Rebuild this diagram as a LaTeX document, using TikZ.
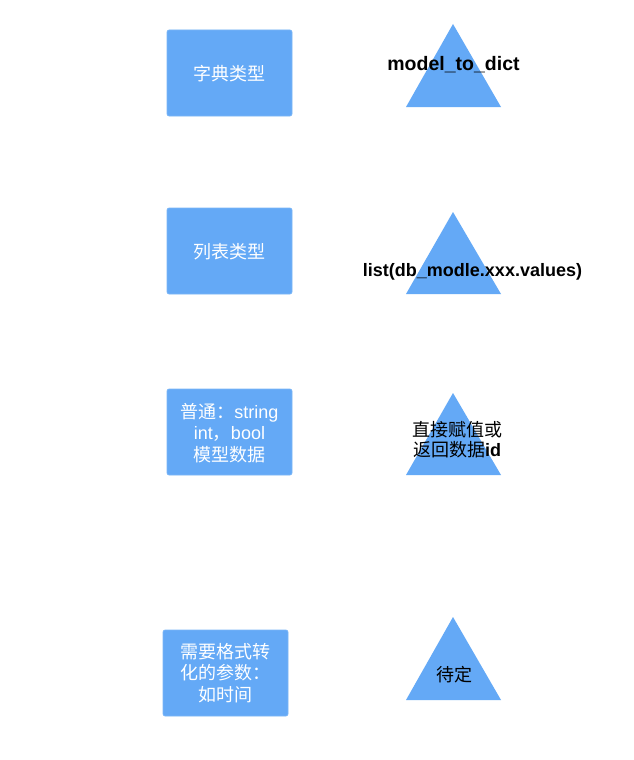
\documentclass[tikz,border=0pt]{standalone}
\usepackage{fontspec}
\setmainfont{Liberation Sans}
\newfontfamily\cjk{Noto Sans CJK SC}
\definecolor{boxblue}{HTML}{64A9F6}
\begin{document}
\begin{tikzpicture}[x=1pt,y=-1pt,
  bluebox/.style={fill=boxblue,draw=boxblue!85!white,line width=0.6pt,rounded corners=2pt},
  tri/.style={fill=boxblue,draw=none},
  boxtext/.style={text=white,align=center,font=\fontsize{18}{21.5}\selectfont,inner sep=0pt},
  tritext/.style={text=black,align=center,font=\fontsize{18}{20}\selectfont\bfseries,inner sep=0pt}]
\useasboundingbox (0,0) rectangle (634,760);
\fill[white] (0,0) rectangle (634,760);
% boxes
\draw[bluebox] (167,30) rectangle (292,116);
\draw[bluebox] (167,208) rectangle (292,294);
\draw[bluebox] (167,389) rectangle (292,475);
\draw[bluebox] (163,630) rectangle (288,716);
\node[boxtext] (b1) at (229.5,74) {\cjk 字典类型};
\node[boxtext] (b2) at (229.5,252) {\cjk 列表类型};
\node[boxtext] (b3) at (229.5,433) {{\cjk 普通：}string\\int{\cjk ，}bool\\{\cjk 模型数据}};
\node[boxtext] (b4) at (225.5,673) {\cjk 需要格式转\\\cjk 化的参数：\\\cjk 如时间};
% triangles
\fill[tri] (453,24) -- (501,107) -- (406,107) -- cycle;
\fill[tri] (453,212) -- (501,294) -- (406,294) -- cycle;
\fill[tri] (453,393) -- (501,475) -- (406,475) -- cycle;
\fill[tri] (453,617) -- (501,700) -- (406,700) -- cycle;
\node[tritext,font=\fontsize{19.5}{20}\selectfont\bfseries] (t1) at (453.5,65) {model\_to\_dict};
\node[tritext] (t2) at (472.5,272) {list(db\_modle.xxx.values)};
\node[tritext] (t3) at (457,440) {{\mdseries\cjk 直接赋值或}\\{\mdseries\cjk 返回数据}id};
\node[tritext] (t4) at (454,675) {\mdseries\cjk 待定};
\end{tikzpicture}
\end{document}
